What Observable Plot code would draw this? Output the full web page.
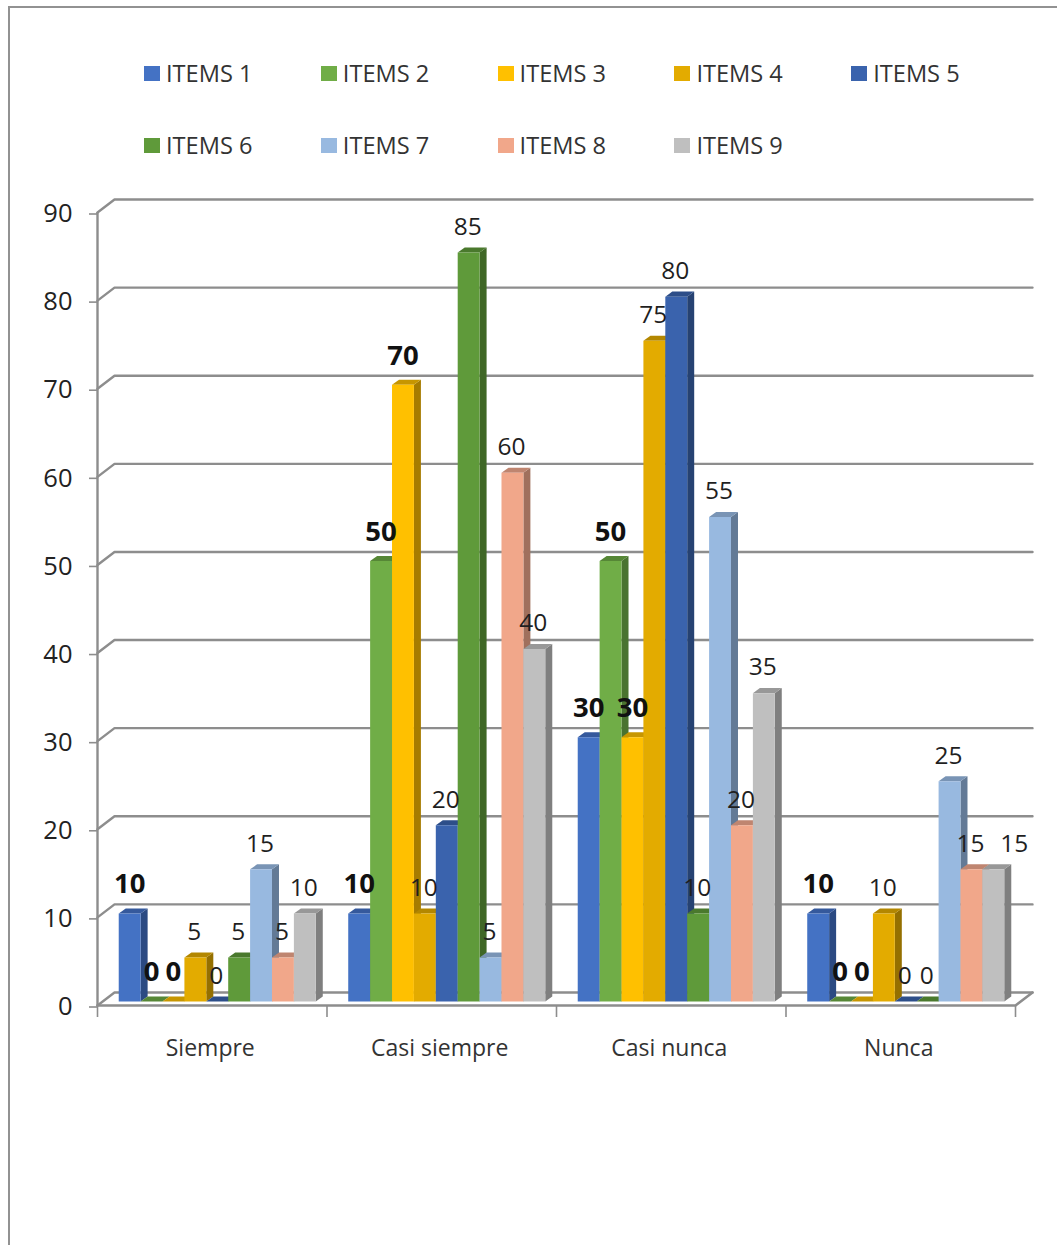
<!DOCTYPE html>
<html>
<head>
<meta charset="utf-8">
<script src="https://cdn.jsdelivr.net/npm/d3@7"></script>
<script src="https://cdn.jsdelivr.net/npm/@observablehq/plot@0.6"></script>
<style>
  html, body { margin: 0; padding: 0; background: #fff; }
  #chart { position: relative; width: 1057px; height: 1245px; overflow: hidden; font-family: "Open Sans", sans-serif; }
  #frame { position: absolute; left: 8px; top: 6px; width: 1060px; height: 1250px; border: 2px solid #929292; box-sizing: border-box; }
  #legend { position: absolute; left: 144px; top: 37px; display: grid; grid-template-columns: repeat(5, 176.8px); grid-auto-rows: 72px; }
  #legend div { display: flex; align-items: center; font-size: 23.6px; color: #333; white-space: nowrap; }
  #legend i { display: block; width: 16px; height: 15px; margin-right: 6px; }
  #plot { position: absolute; left: 0; top: 0; }
</style>
</head>
<body>
<div id="chart">
  <div id="frame"></div>
  <div id="plot"></div>
  <div id="legend"></div>
</div>
<script>
// Survey responses by frequency category, one value per item.
const categories = ["Siempre", "Casi siempre", "Casi nunca", "Nunca"];
const items = ["ITEMS 1", "ITEMS 2", "ITEMS 3", "ITEMS 4", "ITEMS 5", "ITEMS 6", "ITEMS 7", "ITEMS 8", "ITEMS 9"];
const siempre = [10, 0, 0, 5, 0, 5, 15, 5, 10];
const casiSiempre = [10, 50, 70, 10, 20, 85, 5, 60, 40];
const casiNunca = [30, 50, 30, 75, 80, 10, 55, 20, 35];
const nunca = [10, 0, 0, 10, 0, 0, 25, 15, 15];
const seriesByCategory = [siempre, casiSiempre, casiNunca, nunca];

// Face colours of each column: front, top, side.
const frontColors = ["#4472c4", "#70ad47", "#ffc000", "#e3ab00", "#3a63ad", "#5f9a3a", "#98b9e0", "#f1a78a", "#bfbfbf"];
const topColors = ["#35599c", "#568736", "#c79600", "#b38700", "#2d4e89", "#4a792d", "#7994b5", "#bf8570", "#989898"];
const sideColors = ["#2b4a82", "#497330", "#a67c00", "#957000", "#264272", "#3f6726", "#637a96", "#a0705d", "#7f7f7f"];

const yTicks = [0, 10, 20, 30, 40, 50, 60, 70, 80, 90];
const boldItems = 3; // the first three items carry bold value labels

// Oblique projection, in data units of the category and value scales.
const wallDx = 0.0741, wallDy = 1.475;   // back wall relative to the front edge
const planeDx = 0.0218, planeDy = 0.45;  // column front plane relative to the front edge
const sideDx = 0.0305, sideDy = 0.57;    // column depth
const barWidth = 0.0954;
const groupInset = (1 - items.length * barWidth) / 2;

const bars = seriesByCategory.flatMap((values, c) =>
  values.map((value, i) => {
    const x0 = c + planeDx + groupInset + i * barWidth;
    return {category: c, item: i, value, x0, x1: x0 + barWidth, y0: planeDy, y1: value + planeDy};
  })
);

// Three closed outlines per column, painted left to right so that a front covers its neighbour's side.
const faces = bars.flatMap((b, k) => {
  const poly = (suffix, fill, pts) => pts.map(([x, y]) => ({id: `${k}-${suffix}`, fill, x, y}));
  const side = poly("side", sideColors[b.item], [
    [b.x1, b.y0], [b.x1 + sideDx, b.y0 + sideDy], [b.x1 + sideDx, b.y1 + sideDy], [b.x1, b.y1]
  ]);
  const top = poly("top", topColors[b.item], [
    [b.x0, b.y1], [b.x0 + sideDx, b.y1 + sideDy], [b.x1 + sideDx, b.y1 + sideDy], [b.x1, b.y1]
  ]);
  const front = poly("front", frontColors[b.item], [
    [b.x0, b.y0], [b.x0, b.y1], [b.x1, b.y1], [b.x1, b.y0]
  ]);
  return [...side, ...top, ...front];
});

// Wall gridlines: a short diagonal from the axis, then along the back wall.
const gridPath = yTicks.flatMap((v) => [
  {v, x: 0, y: v},
  {v, x: wallDx, y: v + wallDy},
  {v, x: categories.length + wallDx, y: v + wallDy}
]);
const floorEdge = [
  {x: 0, y: 0},
  {x: categories.length, y: 0},
  {x: categories.length + wallDx, y: wallDy}
];
const centers = categories.map((name, c) => ({name, x: c + 0.5}));

// Labels sit over their column; the last label of the last category is moved one column right,
// clear of its neighbour.
const barLabel = (b) => {
  const center = (b.x0 + b.x1) / 2;
  return b.category === categories.length - 1 && b.item === items.length - 1 ? center + barWidth : center;
};
const gridColor = "#8d8d8d";
const font = "'Open Sans', sans-serif";

const plot = Plot.plot({
  width: 1057,
  height: 1245,
  marginLeft: 97,
  marginRight: 42,
  marginTop: 212,
  marginBottom: 240,
  style: {fontFamily: font, background: "transparent", overflow: "visible"},
  x: {domain: [0, categories.length], axis: null},
  y: {domain: [0, 90], axis: null},
  marks: [
    Plot.line(gridPath, {x: "x", y: "y", z: "v", stroke: gridColor, strokeWidth: 2.4}),
    Plot.line(floorEdge, {x: "x", y: "y", stroke: gridColor, strokeWidth: 2.6}),
    Plot.ruleX([0], {y1: 0, y2: 90, stroke: gridColor, strokeWidth: 2.4}),
    Plot.axisY({ticks: yTicks, tickSize: 8, tickPadding: 17, dy: 1.5, tickFormat: (d) => d, fontSize: 25.5, stroke: gridColor, color: "#222", strokeWidth: 1.6, label: null}),
    Plot.axisX({ticks: d3.range(categories.length + 1), tickSize: 12, tickFormat: () => "", stroke: gridColor, strokeWidth: 1.6, label: null}),
    Plot.line(faces, {x: "x", y: "y", z: "id", fill: {value: "fill", scale: null}, stroke: "none"}),
    Plot.text(centers, {x: "x", y: 0, dy: 43, dx: -2, text: "name", fontSize: 23, fill: "#333"}),
    Plot.text(bars.filter((b) => b.item >= boldItems), {
      x: barLabel, y: "y1", dy: -25.5, dx: -1, text: "value", fontSize: 24.5, fill: "#1f1f1f"
    }),
    Plot.text(bars.filter((b) => b.item < boldItems), {
      x: barLabel, y: "y1", dy: -29, text: "value", fontSize: 27.5, fontWeight: 700, fill: "#111"
    })
  ]
});
document.getElementById("plot").append(plot);

// Legend in two rows of five columns.
const legend = document.getElementById("legend");
items.forEach((name, i) => {
  const entry = document.createElement("div");
  const swatch = document.createElement("i");
  swatch.style.background = frontColors[i];
  entry.append(swatch, name);
  legend.append(entry);
});
</script>
</body>
</html>
